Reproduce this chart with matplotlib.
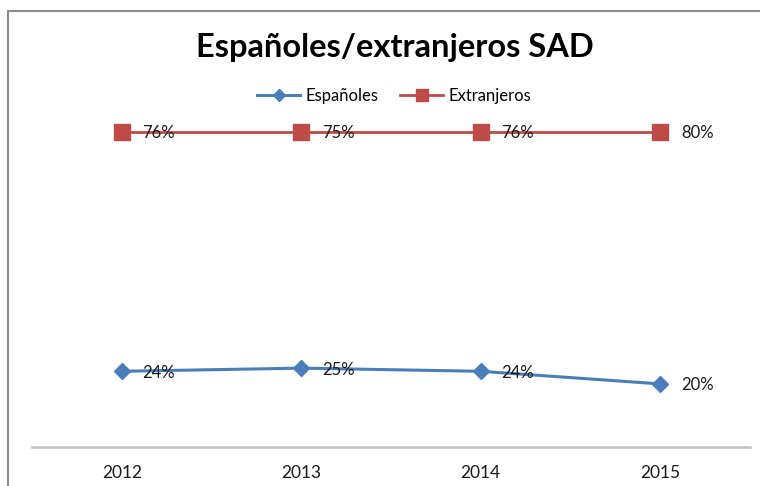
import matplotlib
matplotlib.use("Agg")
import matplotlib.pyplot as plt
from matplotlib.patches import Rectangle
import numpy as np

# datos del grafico (lineas apiladas, las etiquetas muestran el valor propio)
years = ['2012', '2013', '2014', '2015']
espanoles = [24, 25, 24, 20]
extranjeros = [76, 75, 76, 80]

blue = '#4A7EBB'
red = '#BE4B48'

plt.rcParams['font.family'] = ['Lato', 'DejaVu Sans']

fig = plt.figure(figsize=(7.6, 4.86), dpi=100)

# marco gris del grafico
fig.patches.append(Rectangle((8 / 760, -0.05), 1.0, 1 - 11 / 486 + 0.05,
                             transform=fig.transFigure, fill=False,
                             edgecolor='#8C8C8C', lw=1.5))

ax = fig.add_axes([32 / 760, 1 - 447 / 486, (750 - 32) / 760, (447 - 100) / 486])

x = np.arange(len(years))
stacked = np.array(espanoles) + np.array(extranjeros)

ax.plot(x, espanoles, color=blue, lw=2.2, marker='D', markersize=8.5,
        label='Españoles')
ax.plot(x, stacked, color=red, lw=2.0, marker='s', markersize=11.5,
        label='Extranjeros')

for i in range(len(years)):
    ax.annotate(f'{espanoles[i]}%', (x[i], espanoles[i]), xytext=(15, -1),
                textcoords='offset points', ha='left', va='center',
                fontsize=12, color='#1a1a1a')
    ax.annotate(f'{extranjeros[i]}%', (x[i], stacked[i]), xytext=(15, -1),
                textcoords='offset points', ha='left', va='center',
                fontsize=12, color='#1a1a1a')

ax.set_xlim(-0.5, len(years) - 0.5)
ax.set_ylim(0, 110)
ax.set_xticks(x)
ax.set_xticklabels(years, fontsize=12.5, color='#1a1a1a')
ax.tick_params(axis='x', length=0, pad=13)
ax.set_yticks([])
for s in ['top', 'right', 'left']:
    ax.spines[s].set_visible(False)
ax.spines['bottom'].set_color('#BFBFBF')
ax.spines['bottom'].set_linewidth(1.8)
ax.patch.set_alpha(0)

fig.text(395 / 760, 1 - 48 / 486, 'Españoles/extranjeros SAD', ha='center',
         va='center', fontsize=23.5, fontweight='bold', color='black')

fig.legend(loc='center', bbox_to_anchor=(394 / 760, 1 - 96 / 486), ncol=2,
           frameon=False, fontsize=12, handlelength=2.6, columnspacing=1.3,
           handletextpad=0.3, markerscale=0.7)

fig.savefig('out.png', dpi=100)
